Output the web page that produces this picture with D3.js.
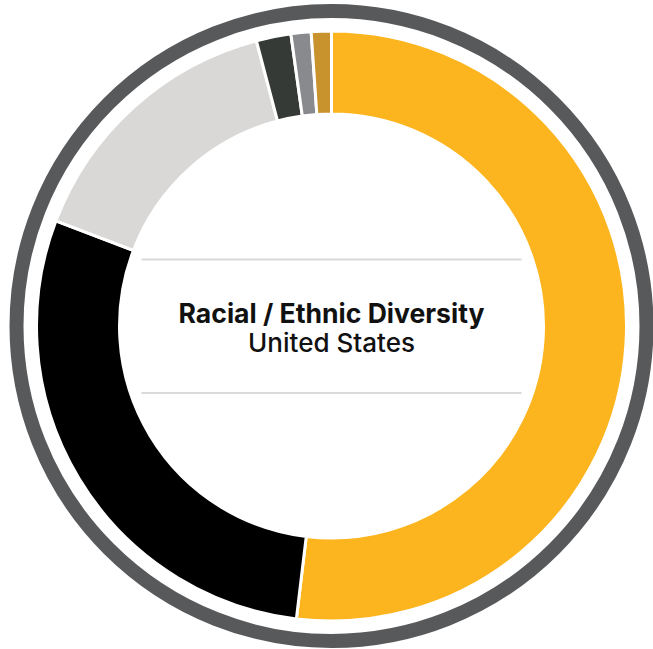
<!DOCTYPE html>
<html>
<head>
<meta charset="utf-8">
<script src="https://cdn.jsdelivr.net/npm/d3@7"></script>
<style>
  html, body { margin: 0; padding: 0; background: #ffffff; }
  svg { display: block; }
</style>
</head>
<body>
<svg id="chart" width="653" height="649"></svg>
<script>
// ---- data ----
const categories = ["Group A", "Group B", "Group C", "Group D", "Group E", "Group F"];
const values = [51.9, 28.9, 15.1, 1.9, 1.1, 1.1];
const colors = ["#FCB51E", "#000000", "#D9D8D6", "#363A36", "#898A8D", "#C8922C"];
const titleLines = ["Racial / Ethnic Diversity", "United States"];

// ---- layout ----
const svg = d3.select("#chart");
const cx = 331.5, cy = 326;
const outerR = 295, innerR = 212;
const g = svg.append("g").attr("transform", `translate(${cx},${cy})`);

// outer ring
g.append("circle")
  .attr("r", 315)
  .attr("fill", "none")
  .attr("stroke", "#58595B")
  .attr("stroke-width", 14);

const data = categories.map((c, i) => ({ cat: c, value: values[i], color: colors[i] }));
const pie = d3.pie().sort(null).value(d => d.value);
const arc = d3.arc().innerRadius(innerR).outerRadius(outerR);

g.selectAll("path.slice")
  .data(pie(data))
  .join("path")
  .attr("class", "slice")
  .attr("d", arc)
  .attr("fill", d => d.data.color)
  .attr("stroke", "#ffffff")
  .attr("stroke-width", 3)
  .attr("stroke-linejoin", "miter");

// separator lines
[-66.5, 67].forEach(y => {
  g.append("line")
    .attr("x1", -190).attr("x2", 190)
    .attr("y1", y).attr("y2", y)
    .attr("stroke", "#DADADA")
    .attr("stroke-width", 2);
});

// titles
const t1 = g.append("text")
  .attr("x", 0).attr("y", -3.5)
  .attr("text-anchor", "middle")
  .attr("font-family", "Inter, 'Open Sans', sans-serif")
  .attr("font-weight", 700)
  .attr("font-size", 22)
  .attr("fill", "#111111")
  .text(titleLines[0]);
const t2 = g.append("text")
  .attr("x", 0).attr("y", 25.5)
  .attr("text-anchor", "middle")
  .attr("font-family", "Inter, 'Open Sans', sans-serif")
  .attr("font-weight", 500)
  .attr("font-size", 19)
  .attr("fill", "#111111")
  .text(titleLines[1]);

// fit widths to reference
function fit(sel, target) {
  const w = sel.node().getComputedTextLength();
  const fs = +sel.attr("font-size");
  sel.attr("font-size", fs * target / w);
}
fit(t1, 306);
fit(t2, 167);
</script>
</body>
</html>
